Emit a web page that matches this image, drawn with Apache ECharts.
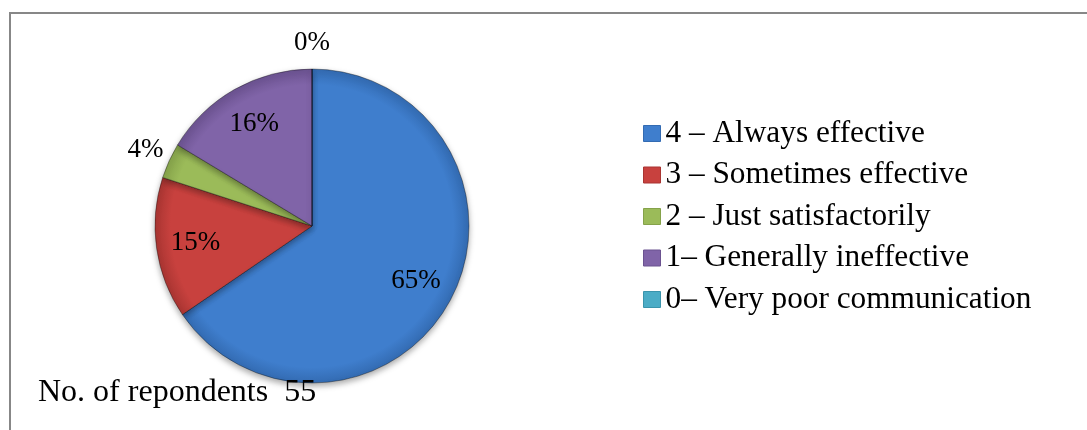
<!DOCTYPE html>
<html>
<head>
<meta charset="utf-8">
<script src="https://cdn.jsdelivr.net/npm/echarts@6/dist/echarts.min.js"></script>
<style>
html,body{margin:0;padding:0;background:#fff;}
#chart{width:1087px;height:430px;}
</style>
</head>
<body>
<div id="chart"></div>
<script>
// ---- data ----
const categories = ['4 – Always effective', '3 – Sometimes effective', '2 – Just satisfactorily', '1– Generally ineffective', '0– Very poor communication'];
const respondents = [36, 8, 2, 9, 0];
const footnote = 'No. of repondents  55';

// ---- style ----
const colors = ['#3F7ECD', '#C8413E', '#9BBB59', '#8064A8', '#4BACC6'];
const edgeColors = ['#336BB2', '#A93532', '#85A24A', '#6B5290', '#3A94AC'];
const FONT = '"Liberation Serif", "Times New Roman", serif';
const CX = 312, CY = 226, R = 157;

const total = respondents.reduce((a, b) => a + b, 0);
const isInside = v => v / total >= 0.1;

function fill(i) {
  return {
    type: 'radial', x: CX, y: CY, r: R, global: true,
    colorStops: [
      {offset: 0, color: colors[i]},
      {offset: 0.9, color: colors[i]},
      {offset: 1, color: edgeColors[i]}
    ]
  };
}

const mainData = categories.map((c, i) => ({name: c, value: respondents[i], itemStyle: {color: fill(i)}}));
const legendData = categories.map((c, i) => ({name: c, itemStyle: {color: colors[i], borderColor: edgeColors[i], borderWidth: 1}}));
const labelStyle = {color: '#000', fontFamily: FONT, fontSize: 27, formatter: '{d}%'};

const innerLabelData = categories.map((c, i) => ({
  name: c, value: respondents[i],
  label: {show: isInside(respondents[i])}
}));
const outerLabelData = categories.map((c, i) => ({
  name: c, value: respondents[i],
  label: {show: !isInside(respondents[i])}
}));

const chart = echarts.init(document.getElementById('chart'), null, {renderer: 'canvas'});
chart.setOption({
  animation: false,
  color: colors,
  legend: {
    orient: 'vertical',
    left: 643, top: 118, padding: 0,
    itemWidth: 17, itemHeight: 16, itemGap: 10.5,
    icon: 'rect',
    data: legendData,
    selectedMode: false,
    textStyle: {fontFamily: FONT, fontSize: 31.3, color: '#000', lineHeight: 31}
  },
  graphic: [
    {type: 'rect', shape: {x: 10, y: 13, width: 1100, height: 440}, style: {fill: 'none', stroke: '#878787', lineWidth: 2}, silent: true},
    {type: 'text', left: 38, top: 377, z: 10, style: {text: footnote, font: '32px ' + FONT, fill: '#000'}}
  ],
  series: [
    {
      type: 'pie', center: [CX, CY], radius: R, startAngle: 90, clockwise: true,
      percentPrecision: 0, avoidLabelOverlap: false, silent: true,
      label: {show: false}, labelLine: {show: false},
      itemStyle: {borderColor: 'rgba(0,0,0,0.35)', borderWidth: 1, shadowBlur: 6, shadowOffsetY: 3, shadowColor: 'rgba(0,0,0,0.35)'},
      data: mainData
    },
    {
      type: 'pie', center: [CX, CY], radius: [R * 0.46, R], startAngle: 90, clockwise: true,
      percentPrecision: 0, avoidLabelOverlap: false, silent: true,
      itemStyle: {color: 'transparent'},
      label: Object.assign({position: 'inside'}, labelStyle), labelLine: {show: false},
      data: innerLabelData
    },
    {
      type: 'pie', center: [CX, CY], radius: [R, R + 46], startAngle: 90, clockwise: true,
      percentPrecision: 0, avoidLabelOverlap: false, silent: true,
      itemStyle: {color: 'transparent'},
      label: Object.assign({position: 'inside'}, labelStyle), labelLine: {show: false},
      data: outerLabelData
    }
  ]
});
</script>
</body>
</html>
